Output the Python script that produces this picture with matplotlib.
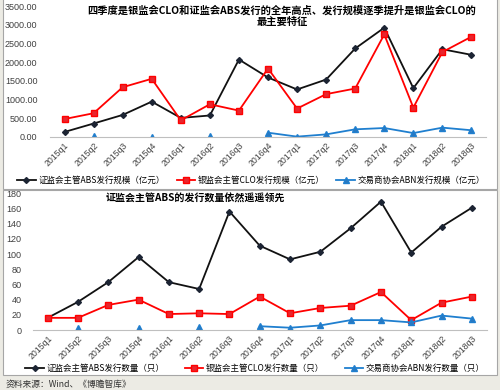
import numpy as np
import matplotlib
matplotlib.use("Agg")
import matplotlib.pyplot as plt
from matplotlib.patches import Rectangle

plt.rcParams['font.family'] = ['Noto Sans CJK SC', 'DejaVu Sans']

quarters = ['2015q1', '2015q2', '2015q3', '2015q4', '2016q1', '2016q2', '2016q3', '2016q4',
            '2017q1', '2017q2', '2017q3', '2017q4', '2018q1', '2018q2', '2018q3']

# 发行规模（亿元）
abs_scale = [135, 360, 590, 945, 510, 575, 2070, 1590, 1270, 1535, 2365, 2920, 1305, 2345, 2195]
clo_scale = [480, 635, 1330, 1555, 445, 875, 705, 1830, 760, 1145, 1295, 2740, 785, 2270, 2680]
abn_scale = [np.nan, 20, np.nan, 5, np.nan, 25, np.nan, 115, 10, 70, 205, 240, 105, 250, 180]

# 发行数量（只）
abs_count = [16, 37, 63, 96, 63, 54, 156, 111, 93, 103, 134, 169, 102, 136, 161]
clo_count = [16, 16, 33, 40, 21, 22, 21, 44, 22, 29, 32, 50, 13, 36, 44]
abn_count = [np.nan, 3, np.nan, 2, np.nan, 4, np.nan, 5, 3, 6, 13, 13, 10, 19, 15]

title_top = '四季度是银监会CLO和证监会ABS发行的全年高点、发行规模逐季提升是银监会CLO的\n最主要特征'
title_bot = '证监会主管ABS的发行数量依然遥遥领先'
labels_top = ['证监会主管ABS发行规模（亿元）', '银监会主管CLO发行规模（亿元）', '交易商协会ABN发行规模（亿元）']
labels_bot = ['证监会主管ABS发行数量（只）', '银监会主管CLO发行数量（只）', '交易商协会ABN发行数量（只）']
source = '资料来源：Wind、《博瞻智库》'

W, H = 500, 390
fig = plt.figure(figsize=(5.0, 3.9), dpi=100, facecolor='#ecebe4')

# white panels
for (x0, y0, x1, y1) in [(3, -2, 497, 189), (3, 190, 497, 375)]:
    fig.patches.append(Rectangle((x0 / W, 1 - y1 / H), (x1 - x0) / W, (y1 - y0) / H,
                                 transform=fig.transFigure, facecolor='white',
                                 edgecolor='#a6a6a6', linewidth=0.8, zorder=-5))

ax1 = fig.add_axes([50 / W, 1 - 137 / H, (486 - 50) / W, (137 - 6) / H])
ax2 = fig.add_axes([32.5 / W, 1 - 330 / H, (487 - 32.5) / W, (330 - 193.3) / H])

x = np.arange(len(quarters))
styles = [
    dict(color='#111111', marker='D', markersize=3, markerfacecolor='#1c2433', markeredgecolor='#1c2433', lw=1.3),
    dict(color='#ff0000', marker='s', markersize=5, markerfacecolor='#e8262e', markeredgecolor='#ff0000', lw=1.3),
    dict(color='#1f7fcf', marker='^', markersize=4, markerfacecolor='#2a78c0', markeredgecolor='#1f7fcf', lw=1.3),
]

def setup(ax, series, labels, ymax, step, fmt):
    ax.patch.set_alpha(0)
    lines = []
    for s, lab, st in zip(series, labels, styles):
        l, = ax.plot(x, s, label=lab, **st)
        lines.append(l)
    ax.set_xlim(-0.5, len(quarters) - 0.5)
    ax.set_ylim(0, ymax)
    ax.set_yticks(np.arange(0, ymax + step / 2, step))
    ax.set_yticklabels([fmt.format(v) for v in np.arange(0, ymax + step / 2, step)],
                       fontsize=6.5, color='#404040', family=['Liberation Sans'])
    ax.set_xticks(x)
    ax.set_xticklabels(quarters, rotation=45, ha='right', rotation_mode='anchor',
                       fontsize=6.3, color='#404040', family=['Liberation Sans'])
    for sp in ['top', 'right', 'left']:
        ax.spines[sp].set_visible(False)
    ax.spines['bottom'].set_color('#bfbfbf')
    ax.spines['bottom'].set_linewidth(0.8)
    ax.tick_params(axis='both', length=0, pad=3)
    return lines

lines1 = setup(ax1, [abs_scale, clo_scale, abn_scale], labels_top, 3500, 500, '{:.2f}')
lines2 = setup(ax2, [abs_count, clo_count, abn_count], labels_bot, 180, 20, '{:.0f}')
ax1.tick_params(axis='y', pad=9)
ax2.tick_params(axis='y', pad=8)

fig.text(282 / W, 1 - 16 / H, title_top, ha='center', va='center', fontsize=7.4,
         fontweight='bold', linespacing=1.15, multialignment='center')
fig.text(195 / W, 1 - 199 / H, title_bot, ha='center', va='center', fontsize=7.2, fontweight='bold')

ax1.legend(handles=lines1, loc='center', bbox_to_anchor=(0.502, 1 - 180 / H),
           bbox_transform=fig.transFigure, ncol=3, frameon=False, fontsize=6.1,
           handlelength=2.2, columnspacing=1.4, handletextpad=0.3, borderaxespad=0)
ax2.legend(handles=lines2, loc='center', bbox_to_anchor=(0.51, 1 - 368 / H),
           bbox_transform=fig.transFigure, ncol=3, frameon=False, fontsize=6.1,
           handlelength=2.2, columnspacing=2.4, handletextpad=0.3, borderaxespad=0)

fig.text(6 / W, 1 - 384 / H, source, ha='left', va='center', fontsize=6.3, color='#333333')

fig.savefig('out.png', dpi=100, facecolor=fig.get_facecolor())
